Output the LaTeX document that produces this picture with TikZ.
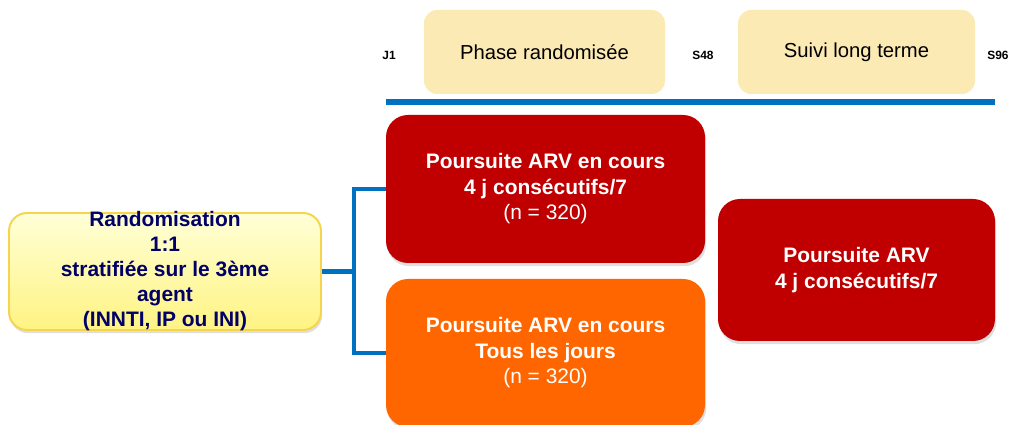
\documentclass[tikz,border=0pt]{standalone}
\usepackage{fontspec}
\setmainfont{Liberation Sans}
\usetikzlibrary{positioning,shadows}

\definecolor{barblue}{RGB}{0,112,192}
\definecolor{armred}{RGB}{192,0,0}
\definecolor{armorange}{RGB}{255,102,0}
\definecolor{phasebeige}{RGB}{252,234,180}
\definecolor{randnavy}{RGB}{0,0,102}
\definecolor{randgold}{RGB}{245,212,80}
\definecolor{randtop}{RGB}{255,255,215}
\definecolor{randbottom}{RGB}{255,243,130}

\tikzset{
	phasebox/.style={fill=phasebeige, rounded corners=0.33cm, minimum height=2.1cm,
		font=\fontsize{14.4}{17}\selectfont},
	weeklabel/.style={font=\fontsize{8.5}{10}\selectfont\bfseries},
	armbox/.style={rounded corners=0.55cm, minimum width=7.975cm, minimum height=3.7cm,
		align=center, text=white, font=\fontsize{14.9}{18.1}\selectfont\bfseries,
		drop shadow={shadow xshift=0.03cm, shadow yshift=-0.08cm, opacity=0.25}},
	randbox/.style={draw=randgold, line width=1.4pt, top color=randtop, bottom color=randbottom,
		rounded corners=0.45cm, minimum width=7.8cm, minimum height=2.925cm, inner ysep=-3pt,
		align=center, text=randnavy, font=\fontsize{14.9}{17.8}\selectfont\bfseries,
		drop shadow={shadow xshift=0.03cm, shadow yshift=-0.08cm, opacity=0.25}},
	link/.style={draw=barblue, line width=3.5pt}
}

\begin{document}
\begin{tikzpicture}

		\useasboundingbox (0,0) rectangle (25.275,10.625);

		\node[weeklabel] (j1) at (9.725,9.25) {J1};
		\node[phasebox, minimum width=6.025cm] (randomisee) at (13.6125,9.325) {Phase randomisée};
		\node[weeklabel] (s48) at (17.575,9.25) {S48};
		\node[phasebox, minimum width=5.925cm] (suivi) at (21.4125,9.325) {Suivi long terme};
		\node[weeklabel] (s96) at (24.95,9.25) {S96};

		\draw[barblue, line width=4.3pt] (9.65,8.075) -- (24.875,8.075);

		\node[randbox] (randomisation) at (4.125,3.8375)
			{Randomisation\\1:1\\stratifiée sur le 3ème\\agent\\(INNTI, IP ou INI)};

		\node[armbox, fill=armred] (arm4j) at (13.6375,5.9)
			{Poursuite ARV en cours\\4 j consécutifs/7\\{\mdseries (n = 320)}};
		\node[armbox, fill=armorange] (armtous) at (13.6375,1.8)
			{Poursuite ARV en cours\\Tous les jours\\{\mdseries (n = 320)}};
		\node[armbox, fill=armred, minimum width=6.925cm, minimum height=3.55cm] (suivi4j) at (21.4125,3.875)
			{Poursuite ARV\\4 j consécutifs/7};

		\draw[link] (randomisation.east) -- ++(0.8,0) coordinate (fork);
		\draw[link] (arm4j.west) -| (fork) |- (armtous.west);

\end{tikzpicture}
\end{document}
